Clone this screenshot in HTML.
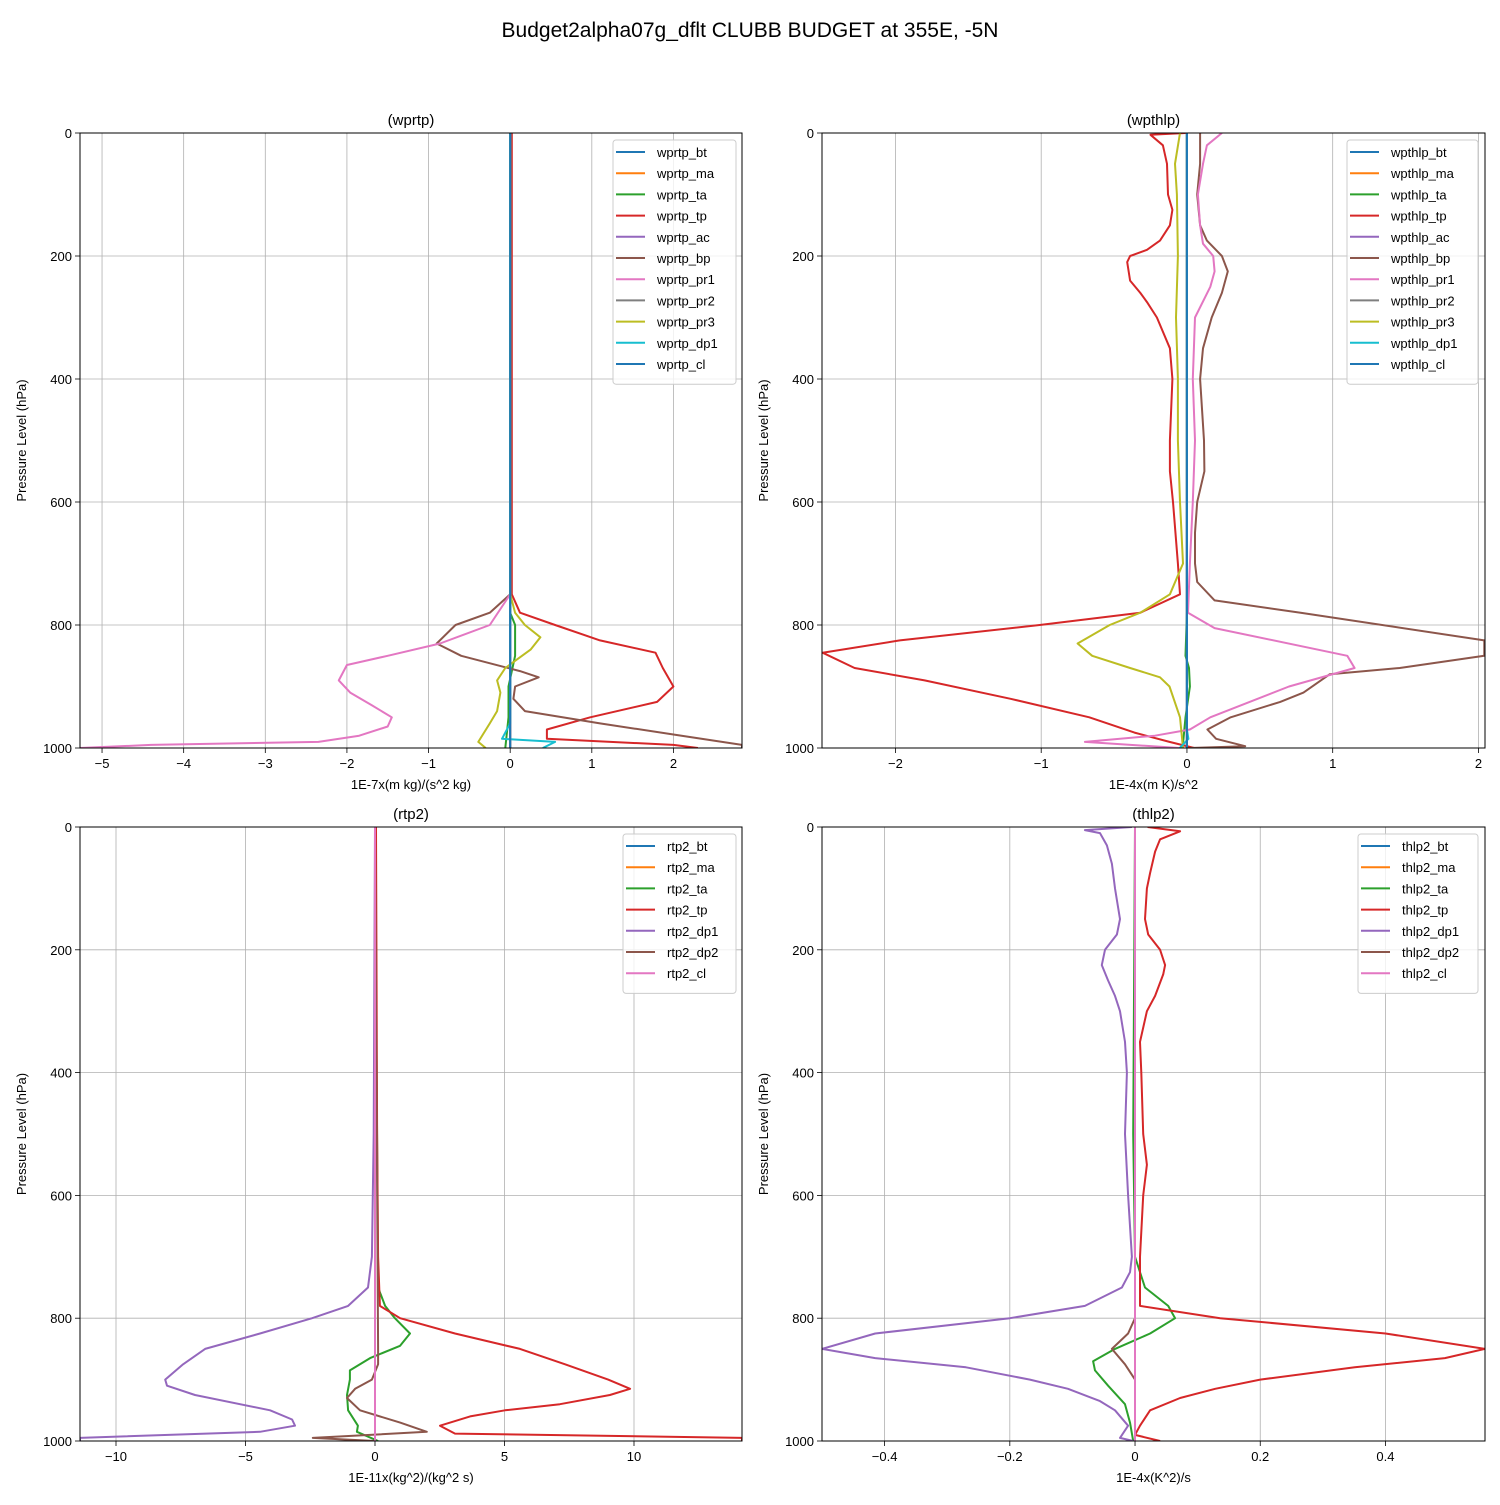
<!DOCTYPE html>
<html><head><meta charset="utf-8"><style>
body{margin:0;background:#fff}
svg text{font-family:"Liberation Sans","DejaVu Sans",sans-serif;fill:#000}
</style></head><body>
<svg id="fig" width="1500" height="1500" xmlns="http://www.w3.org/2000/svg">
<rect width="1500" height="1500" fill="#fff"/>
<text x="750" y="37" font-size="21" text-anchor="middle">Budget2alpha07g_dflt CLUBB BUDGET at 355E, -5N</text>
</svg>
<script>
// ---- data (pressure hPa, value) ----
const zero=[[0,0],[1000,0]];
const wprtp_bt=zero, wprtp_ma=zero, wprtp_ac=zero, wprtp_pr2=zero, wprtp_cl=zero;
const wprtp_ta=[[0,0],[780,0],[800,0.06],[850,0.06],[900,-0.02],[950,-0.02],[1000,-0.06]];
const wprtp_tp=[[0,0.02],[750,0.02],[780,0.12],[800,0.55],[825,1.1],[845,1.78],[870,1.87],[900,2.0],[925,1.8],[950,0.98],[970,0.45],[985,0.45],[995,2.0],[1000,2.3]];
const wprtp_bp=[[0,0],[750,0],[780,-0.25],[800,-0.67],[830,-0.9],[850,-0.6],[875,0.12],[885,0.35],[900,0.06],[920,0.04],[940,0.18],[960,1.1],[980,2.1],[995,2.84],[1000,2.84]];
const wprtp_pr1=[[0,0],[750,0],[800,-0.25],[830,-0.86],[850,-1.5],[865,-2.0],[890,-2.1],[910,-1.96],[930,-1.7],[950,-1.45],[965,-1.5],[980,-1.85],[990,-2.35],[995,-4.4],[1000,-5.27]];
const wprtp_pr3=[[0,0],[750,0],[780,0.06],[800,0.18],[820,0.37],[840,0.25],[870,-0.06],[890,-0.16],[910,-0.12],[940,-0.16],[960,-0.25],[990,-0.39],[1000,-0.3]];
const wprtp_dp1=[[0,0],[960,0],[985,-0.1],[990,0.55],[1000,0.4]];

const wpthlp_bt=zero, wpthlp_ma=zero, wpthlp_ac=zero, wpthlp_pr2=zero, wpthlp_cl=zero;
const wpthlp_ta=[[0,0],[780,0],[850,-0.01],[870,0.014],[900,0.02],[950,-0.01],[1000,-0.03]];
const wpthlp_tp=[[0,-0.01],[3,-0.25],[20,-0.165],[50,-0.137],[100,-0.13],[125,-0.1],[150,-0.117],[175,-0.185],[190,-0.274],[200,-0.39],[210,-0.41],[240,-0.39],[260,-0.32],[275,-0.274],[300,-0.206],[350,-0.117],[400,-0.1],[500,-0.117],[550,-0.117],[600,-0.096],[700,-0.062],[750,-0.048],[780,-0.32],[800,-1.01],[825,-1.97],[845,-2.5],[870,-2.28],[890,-1.8],[920,-1.21],[950,-0.67],[975,-0.36],[990,-0.12],[1000,0.05]];
const wpthlp_bp=[[0,0.09],[50,0.09],[100,0.07],[150,0.09],[175,0.137],[200,0.24],[225,0.28],[260,0.24],[300,0.17],[350,0.11],[400,0.09],[500,0.117],[550,0.12],[600,0.07],[650,0.055],[700,0.055],[730,0.07],[760,0.19],[780,0.78],[825,2.04],[850,2.04],[870,1.46],[880,0.98],[910,0.8],[925,0.64],[950,0.3],[970,0.14],[985,0.2],[997,0.4],[1000,0.02]];
const wpthlp_pr1=[[0,0.24],[20,0.137],[50,0.11],[100,0.075],[150,0.09],[180,0.11],[200,0.18],[225,0.19],[250,0.16],[300,0.055],[400,0.04],[500,0.055],[600,0.04],[700,0.02],[780,0.007],[805,0.19],[850,1.1],[870,1.15],[900,0.7],[925,0.43],[950,0.16],[970,0.02],[980,-0.22],[990,-0.7],[1000,-0.05]];
const wpthlp_pr3=[[0,-0.048],[50,-0.082],[100,-0.069],[200,-0.062],[300,-0.075],[400,-0.062],[500,-0.062],[600,-0.048],[700,-0.027],[750,-0.117],[780,-0.32],[800,-0.53],[830,-0.75],[850,-0.65],[870,-0.39],[885,-0.185],[900,-0.12],[950,-0.048],[1000,-0.027]];
const wpthlp_dp1=[[0,0],[970,0],[985,0.01],[1000,-0.05]];

const rtp2_bt=zero, rtp2_ma=zero, rtp2_cl=zero;
const rtp2_ta=[[0,0],[750,0.12],[780,0.39],[800,0.77],[825,1.35],[845,0.97],[865,-0.19],[885,-0.97],[900,-0.97],[925,-1.08],[950,-1.04],[975,-0.66],[985,-0.7],[1000,0.12]];
const rtp2_tp=[[0,0.04],[500,0.08],[700,0.12],[780,0.19],[800,0.97],[825,3.09],[850,5.6],[875,7.34],[900,9.0],[915,9.85],[925,9.07],[940,7.14],[950,5.02],[960,3.67],[975,2.51],[988,3.09],[995,14.17],[1000,14.17]];
const rtp2_dp1=[[0,0],[500,-0.05],[700,-0.12],[750,-0.27],[780,-1.04],[800,-2.43],[825,-4.44],[850,-6.56],[875,-7.41],[900,-8.1],[910,-8.03],[925,-6.95],[950,-4.05],[965,-3.2],[975,-3.09],[985,-4.44],[995,-11.39],[1000,-11.39]];
const rtp2_dp2=[[0,0],[850,0.12],[875,0.12],[900,-0.12],[915,-0.77],[930,-1.08],[950,-0.58],[970,0.97],[985,2.0],[995,-2.4],[1000,0]];

const thlp2_bt=zero, thlp2_ma=zero, thlp2_cl=zero;
const thlp2_ta=[[0,0],[500,-0.003],[700,0],[750,0.016],[780,0.053],[800,0.064],[825,0.024],[850,-0.032],[870,-0.067],[885,-0.064],[910,-0.043],[940,-0.016],[970,-0.008],[1000,-0.003]];
const thlp2_tp=[[0,0.02],[7,0.072],[20,0.04],[40,0.032],[75,0.024],[100,0.019],[150,0.016],[175,0.021],[200,0.04],[225,0.048],[240,0.045],[275,0.032],[300,0.019],[350,0.008],[400,0.01],[500,0.013],[550,0.019],[600,0.013],[700,0.008],[780,0.008],[800,0.136],[825,0.4],[850,0.559],[865,0.495],[880,0.351],[900,0.2],[915,0.128],[930,0.072],[950,0.024],[975,0.008],[990,0],[1000,0.04]];
const thlp2_dp1=[[0,-0.005],[5,-0.08],[10,-0.056],[30,-0.045],[60,-0.037],[100,-0.032],[150,-0.024],[175,-0.029],[200,-0.048],[225,-0.053],[250,-0.043],[275,-0.032],[300,-0.024],[350,-0.016],[400,-0.013],[500,-0.016],[600,-0.011],[700,-0.005],[725,-0.008],[750,-0.021],[780,-0.08],[800,-0.2],[825,-0.415],[850,-0.5],[865,-0.415],[880,-0.27],[900,-0.168],[915,-0.107],[935,-0.056],[950,-0.032],[975,-0.011],[995,-0.024],[1000,-0.003]];
const thlp2_dp2=[[0,0],[800,0],[825,-0.011],[850,-0.037],[875,-0.016],[900,0],[1000,0]];

const yTicks=[0,200,400,600,800,1000];
const xTicks1=[-5,-4,-3,-2,-1,0,1,2];
const xTicks2=[-2,-1,0,1,2];
const xTicks3=[-10,-5,0,5,10];
const xTicks4=[-0.4,-0.2,0,0.2,0.4];

const C={b:'#1f77b4',o:'#ff7f0e',g:'#2ca02c',r:'#d62728',p:'#9467bd',br:'#8c564b',pk:'#e377c2',gy:'#7f7f7f',ol:'#bcbd22',c:'#17becf'};
const panels=[
 {key:'wprtp',L:80,R:742,T:133,B:748,xmin:-5.27,xmax:2.84,ticks:xTicks1,xl:'1E-7x(m kg)/(s^2 kg)',lx:613,lw:123,
  series:[['wprtp_bt',wprtp_bt,C.b],['wprtp_ma',wprtp_ma,C.o],['wprtp_ta',wprtp_ta,C.g],['wprtp_tp',wprtp_tp,C.r],['wprtp_ac',wprtp_ac,C.p],['wprtp_bp',wprtp_bp,C.br],['wprtp_pr1',wprtp_pr1,C.pk],['wprtp_pr2',wprtp_pr2,C.gy],['wprtp_pr3',wprtp_pr3,C.ol],['wprtp_dp1',wprtp_dp1,C.c],['wprtp_cl',wprtp_cl,C.b]]},
 {key:'wpthlp',L:822,R:1485,T:133,B:748,xmin:-2.504,xmax:2.045,ticks:xTicks2,xl:'1E-4x(m K)/s^2',lx:1347,lw:131,
  series:[['wpthlp_bt',wpthlp_bt,C.b],['wpthlp_ma',wpthlp_ma,C.o],['wpthlp_ta',wpthlp_ta,C.g],['wpthlp_tp',wpthlp_tp,C.r],['wpthlp_ac',wpthlp_ac,C.p],['wpthlp_bp',wpthlp_bp,C.br],['wpthlp_pr1',wpthlp_pr1,C.pk],['wpthlp_pr2',wpthlp_pr2,C.gy],['wpthlp_pr3',wpthlp_pr3,C.ol],['wpthlp_dp1',wpthlp_dp1,C.c],['wpthlp_cl',wpthlp_cl,C.b]]},
 {key:'rtp2',L:80,R:742,T:827,B:1441,xmin:-11.39,xmax:14.17,ticks:xTicks3,xl:'1E-11x(kg^2)/(kg^2 s)',lx:623,lw:113,
  series:[['rtp2_bt',rtp2_bt,C.b],['rtp2_ma',rtp2_ma,C.o],['rtp2_ta',rtp2_ta,C.g],['rtp2_tp',rtp2_tp,C.r],['rtp2_dp1',rtp2_dp1,C.p],['rtp2_dp2',rtp2_dp2,C.br],['rtp2_cl',rtp2_cl,C.pk]]},
 {key:'thlp2',L:822,R:1485,T:827,B:1441,xmin:-0.5,xmax:0.559,ticks:xTicks4,xl:'1E-4x(K^2)/s',lx:1358,lw:120,
  series:[['thlp2_bt',thlp2_bt,C.b],['thlp2_ma',thlp2_ma,C.o],['thlp2_ta',thlp2_ta,C.g],['thlp2_tp',thlp2_tp,C.r],['thlp2_dp1',thlp2_dp1,C.p],['thlp2_dp2',thlp2_dp2,C.br],['thlp2_cl',thlp2_cl,C.pk]]}
];
const NS='http://www.w3.org/2000/svg';
const svg=document.getElementById('fig');
function mk(tag,attrs,parent,txt){const e=document.createElementNS(NS,tag);for(const k in attrs)e.setAttribute(k,attrs[k]);if(txt!==undefined)e.textContent=txt;(parent||svg).appendChild(e);return e;}
function fmt(v){let s=(Math.abs(v)<1e-9)?'0':String(+v.toFixed(2));return s.replace('-','\u2212');}
panels.forEach(P=>{
 const g=mk('g',{});
 
 
 const X=v=>P.L+(v-P.xmin)/(P.xmax-P.xmin)*(P.R-P.L);
 const Y=p=>P.T+p/1000*(P.B-P.T);
 const cid='clip-'+P.key;
 const cp=mk('clipPath',{id:cid},g);mk('rect',{x:P.L,y:P.T,width:P.R-P.L,height:P.B-P.T},cp);
 P.ticks.forEach(t=>{const x=X(t);
  const gl=mk('line',{x1:x,x2:x,y1:P.T,y2:P.B,stroke:'#b0b0b0','stroke-width':0.8},g);
  
  
  mk('line',{x1:x,x2:x,y1:P.B,y2:P.B+5,stroke:'#000','stroke-width':0.8},g);
  const tl=mk('text',{x:x,y:P.B+20,'font-size':13,'text-anchor':'middle'},g,fmt(t));
  
  
 });
 yTicks.forEach(t=>{const y=Y(t);
  const gl=mk('line',{x1:P.L,x2:P.R,y1:y,y2:y,stroke:'#b0b0b0','stroke-width':0.8},g);
  
  
  mk('line',{x1:P.L-5,x2:P.L,y1:y,y2:y,stroke:'#000','stroke-width':0.8},g);
  const tl=mk('text',{x:P.L-8,y:y+5,'font-size':13,'text-anchor':'end'},g,String(t));
  
  
 });
 const lines=mk('g',{'clip-path':'url(#'+cid+')'},g);
 P.series.forEach(s=>{
  const d=s[1].map((pt,i)=>(i?'L':'M')+X(pt[1]).toFixed(1)+','+Y(pt[0]).toFixed(1)).join('');
  const pa=mk('path',{d:d,fill:'none',stroke:s[2],'stroke-width':2,'stroke-linejoin':'round'},lines);
  
  
 });
 mk('rect',{x:P.L,y:P.T,width:P.R-P.L,height:P.B-P.T,fill:'none',stroke:'#000','stroke-width':1},g);
 const ti=mk('text',{x:(P.L+P.R)/2,y:P.T-8,'font-size':15,'text-anchor':'middle'},g,'('+P.key+')');
 
 
 const xl=mk('text',{x:(P.L+P.R)/2,y:P.B+41,'font-size':13,'text-anchor':'middle'},g,P.xl);
 
 
 const yc=(P.T+P.B)/2;
 const yl=mk('text',{x:26,y:yc,'font-size':13,'text-anchor':'middle',transform:'rotate(-90 '+(P.L-54)+' '+yc+')'},g,'Pressure Level (hPa)');
 yl.setAttribute('x',P.L-54);
 
 
 const lg=mk('g',{},g);
 
 
 const n=P.series.length;
 mk('rect',{x:P.lx,y:P.T+7,width:P.lw,height:n*21.2+11,rx:3,fill:'#fff','fill-opacity':0.8,stroke:'#ccc'},lg);
 P.series.forEach((s,i)=>{const y=P.T+19+i*21.2;
  const e=mk('g',{},lg);
  
  
  mk('line',{x1:P.lx+3,x2:P.lx+32,y1:y,y2:y,stroke:s[2],'stroke-width':2},e);
  mk('text',{x:P.lx+44,y:y+5,'font-size':13},e,s[0]);
 });
});
</script>
</body></html>
